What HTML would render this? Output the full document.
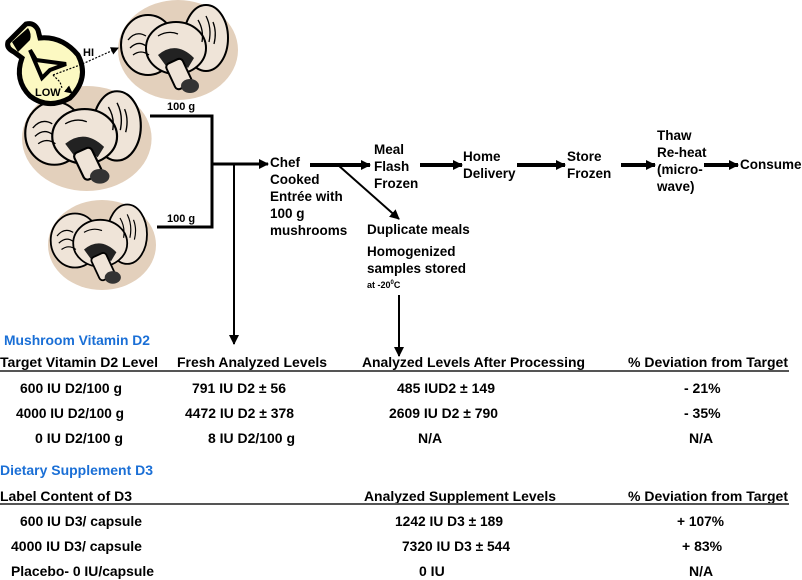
<!DOCTYPE html>
<html><head><meta charset="utf-8"><style>
html,body{margin:0;padding:0;background:#fff;}
svg{display:block;}
text{font-family:"Liberation Sans Narrow","Liberation Sans",sans-serif;font-weight:bold;fill:#000;}
.f{font-family:"Liberation Sans",sans-serif;font-size:13.5px;}
.t{font-size:14px;}
.b{fill:#1a6fd6;}
</style></head><body>
<svg width="802" height="580" viewBox="0 0 802 580" xmlns="http://www.w3.org/2000/svg">
<defs>
<marker id="ah" markerWidth="10" markerHeight="10" refX="9" refY="5" orient="auto" markerUnits="userSpaceOnUse">
<path d="M0,0 L10,5 L0,10 z" fill="#000"/></marker>
<marker id="as" markerWidth="8" markerHeight="8" refX="7" refY="4" orient="auto" markerUnits="userSpaceOnUse">
<path d="M0,0 L8,4 L0,8 z" fill="#000"/></marker>
<g id="mush">
<ellipse cx="60" cy="50" rx="60" ry="50" fill="#e3d0bc"/>
<ellipse cx="30" cy="45" rx="27" ry="30" fill="#efe4d8" stroke="#000" stroke-width="2"/>
<ellipse cx="88" cy="38" rx="22" ry="33" fill="#efe4d8" stroke="#000" stroke-width="2"/>
<ellipse cx="58" cy="48" rx="30" ry="26" fill="#efe4d8" stroke="#000" stroke-width="2"/>
<path d="M40,55 Q58,40 76,58 L70,68 Q58,56 48,66 z" fill="#222"/>
<rect x="52" y="60" width="18" height="28" rx="4" transform="rotate(-25 61 74)" fill="#efe4d8" stroke="#000" stroke-width="2"/>
<ellipse cx="72" cy="86" rx="9" ry="7" fill="#333"/>
<path d="M10,40 q8,-10 18,-4 M12,48 q8,-8 16,-2 M15,55 q8,-6 16,0 M80,20 q6,10 4,22 M88,16 q6,12 3,26 M95,22 q4,10 1,22 M40,36 q10,-6 20,-2" stroke="#000" fill="none" stroke-width="1.3"/>
</g>
</defs>

<use href="#mush" transform="translate(118,0)"/>
<use href="#mush" transform="translate(22,86) scale(1.08,1.05)"/>
<use href="#mush" transform="translate(48,200) scale(0.9,0.9)"/>

<g>
<path d="M8,42 L26,24 Q34,22 38,30 L40,38 Q62,36 78,55 Q90,78 70,98 Q48,110 30,96 Q14,80 22,58 L14,52 Q6,48 8,42 z" fill="#fcf9c2" stroke="#000" stroke-width="5"/>
<path d="M12,42 L28,28 Q32,34 30,40 L18,52 z" fill="#000"/>
<path d="M30,50 L42,78 L50,70 L66,64 L36,60 z" fill="none" stroke="#000" stroke-width="4"/>
</g>
<text class="f" x="83" y="56" style="font-size:11px">HI</text>
<text class="f" x="35" y="96" style="font-size:11px">LOW</text>
<path d="M53,75 L80,65 L118,48" stroke="#000" stroke-width="1.2" stroke-dasharray="2,1.5" fill="none" marker-end="url(#as)"/>
<path d="M53,75 L60,82 L62,88" stroke="#000" stroke-width="1.2" stroke-dasharray="2,1.5" fill="none"/>
<path d="M67,89 L72,93" stroke="#000" stroke-width="1.2" marker-end="url(#as)"/>

<g stroke="#000" stroke-width="3" fill="none">
<path d="M150,116 L212,116 L212,227 L157,227"/>
<path d="M212,164 L268,164" marker-end="url(#ah)"/>
<path d="M234,164 L234,344" stroke-width="2" marker-end="url(#ah)"/>
<path d="M310,165 L370,165" stroke-width="4" marker-end="url(#ah)"/>
<path d="M338,165 L399,219" stroke-width="2" marker-end="url(#ah)"/>
<path d="M420,165 L462,165" stroke-width="4" marker-end="url(#ah)"/>
<path d="M517,165 L565,165" stroke-width="4" marker-end="url(#ah)"/>
<path d="M621,165 L655,165" stroke-width="4" marker-end="url(#ah)"/>
<path d="M704,165 L738,165" stroke-width="4" marker-end="url(#ah)"/>
<path d="M399,295 L399,356" stroke-width="2" marker-end="url(#ah)"/>
</g>
<text class="f" x="167" y="110" style="font-size:11px">100 g</text>
<text class="f" x="167" y="222" style="font-size:11px">100 g</text>

<text class="f" x="270" y="167">Chef</text>
<text class="f" x="270" y="184">Cooked</text>
<text class="f" x="270" y="201">Entrée with</text>
<text class="f" x="270" y="218">100 g</text>
<text class="f" x="270" y="235">mushrooms</text>
<text class="f" x="374" y="154">Meal</text>
<text class="f" x="374" y="171">Flash</text>
<text class="f" x="374" y="188">Frozen</text>
<text class="f" x="463" y="161">Home</text>
<text class="f" x="463" y="178">Delivery</text>
<text class="f" x="567" y="161">Store</text>
<text class="f" x="567" y="178">Frozen</text>
<text class="f" x="657" y="140">Thaw</text>
<text class="f" x="657" y="157">Re-heat</text>
<text class="f" x="657" y="174">(micro-</text>
<text class="f" x="657" y="191">wave)</text>
<text class="f" x="740" y="169">Consume</text>
<text class="f" x="367" y="234">Duplicate meals</text>
<text class="f" x="367" y="256">Homogenized</text>
<text class="f" x="367" y="273">samples stored</text>
<text class="f" x="367" y="288" style="font-size:9px">at -20<tspan dy="-4" style="font-size:6px">0</tspan><tspan dy="4">C</tspan></text>

<text class="t b" x="4" y="345" textLength="146" lengthAdjust="spacingAndGlyphs">Mushroom Vitamin D2</text>
<text class="t" x="0" y="367" textLength="158" lengthAdjust="spacingAndGlyphs">Target Vitamin D2 Level</text>
<text class="t" x="177" y="367" textLength="150" lengthAdjust="spacingAndGlyphs">Fresh Analyzed Levels</text>
<text class="t" x="362" y="367" textLength="223" lengthAdjust="spacingAndGlyphs">Analyzed Levels After Processing</text>
<text class="t" x="628" y="367" textLength="160" lengthAdjust="spacingAndGlyphs">% Deviation from Target</text>
<rect x="0" y="370" width="789" height="2" fill="#555"/>
<text class="t" x="20" y="393" textLength="102" lengthAdjust="spacingAndGlyphs">600 IU D2/100 g</text>
<text class="t" x="192" y="393" textLength="94" lengthAdjust="spacingAndGlyphs">791 IU D2 ± 56</text>
<text class="t" x="397" y="393" textLength="98" lengthAdjust="spacingAndGlyphs">485 IUD2 ± 149</text>
<text class="t" x="684" y="393">- 21%</text>
<text class="t" x="16" y="418" textLength="108" lengthAdjust="spacingAndGlyphs">4000 IU D2/100 g</text>
<text class="t" x="185" y="418" textLength="109" lengthAdjust="spacingAndGlyphs">4472 IU D2 ± 378</text>
<text class="t" x="389" y="418" textLength="109" lengthAdjust="spacingAndGlyphs">2609 IU D2 ± 790</text>
<text class="t" x="684" y="418">- 35%</text>
<text class="t" x="35" y="443" textLength="88" lengthAdjust="spacingAndGlyphs">0 IU D2/100 g</text>
<text class="t" x="208" y="443" textLength="87" lengthAdjust="spacingAndGlyphs">8 IU D2/100 g</text>
<text class="t" x="418" y="443">N/A</text>
<text class="t" x="689" y="443">N/A</text>

<text class="t b" x="0" y="475" textLength="153" lengthAdjust="spacingAndGlyphs">Dietary Supplement D3</text>
<text class="t" x="0" y="501" textLength="132" lengthAdjust="spacingAndGlyphs">Label Content of D3</text>
<text class="t" x="364" y="501" textLength="192" lengthAdjust="spacingAndGlyphs">Analyzed Supplement Levels</text>
<text class="t" x="628" y="501" textLength="160" lengthAdjust="spacingAndGlyphs">% Deviation from Target</text>
<rect x="0" y="503" width="789" height="2" fill="#555"/>
<text class="t" x="20" y="526" textLength="122" lengthAdjust="spacingAndGlyphs">600 IU D3/ capsule</text>
<text class="t" x="395" y="526" textLength="108" lengthAdjust="spacingAndGlyphs">1242 IU D3 ± 189</text>
<text class="t" x="677" y="526" textLength="47" lengthAdjust="spacingAndGlyphs">+ 107%</text>
<text class="t" x="11" y="551" textLength="131" lengthAdjust="spacingAndGlyphs">4000 IU D3/ capsule</text>
<text class="t" x="402" y="551" textLength="108" lengthAdjust="spacingAndGlyphs">7320 IU D3 ± 544</text>
<text class="t" x="682" y="551">+ 83%</text>
<text class="t" x="11" y="576" textLength="143" lengthAdjust="spacingAndGlyphs">Placebo- 0 IU/capsule</text>
<text class="t" x="419" y="576">0 IU</text>
<text class="t" x="689" y="576">N/A</text>
</svg>
</body></html>
